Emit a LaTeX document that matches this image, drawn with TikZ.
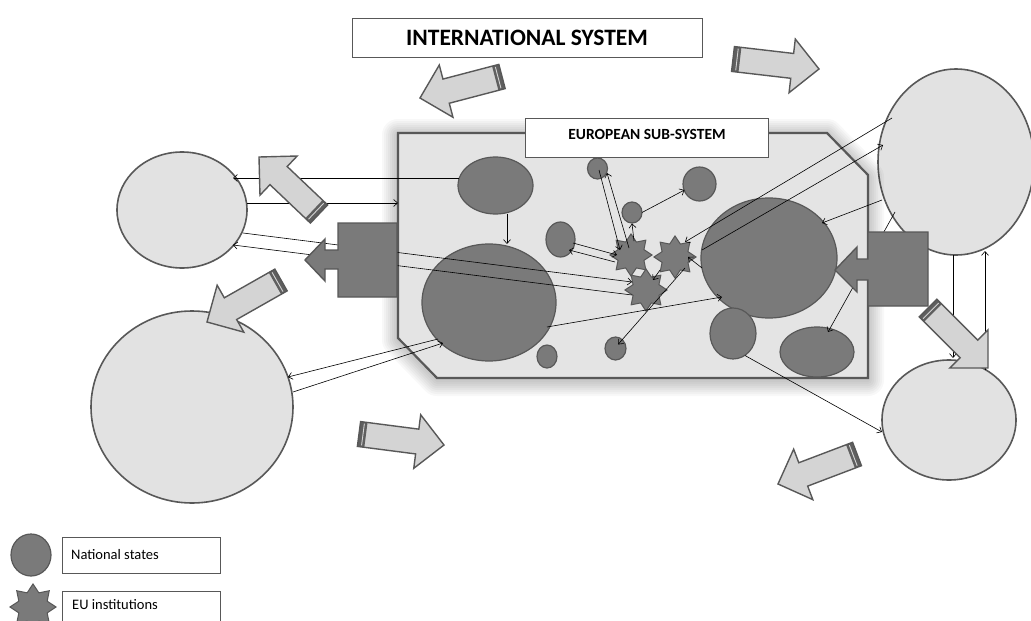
\documentclass[tikz,border=0pt]{standalone}
\usepackage{fontspec}
\setmainfont{Carlito}
\usetikzlibrary{calc,shapes.geometric,arrows.meta}
\definecolor{lightc}{RGB}{226,226,226}
\definecolor{boxc}{RGB}{228,228,228}
\definecolor{darkc}{RGB}{122,122,122}
\definecolor{edgec}{RGB}{88,88,88}
\definecolor{arrc}{RGB}{212,212,212}
\definecolor{stripec}{RGB}{95,95,95}
\tikzset{
  bigc/.style={ellipse, draw=edgec, fill=lightc, line width=1.6pt, inner sep=0pt, outer sep=0pt},
  state/.style={ellipse, draw=edgec, fill=darkc, line width=1.2pt, inner sep=0pt, outer sep=0pt},
  inst/.style={star, star points=8, star point ratio=1.5, draw=edgec, fill=darkc, line width=1pt, inner sep=0pt, minimum size=42pt},
  conn/.style={-{Straight Barb[length=4pt,width=7pt]}, line width=0.6pt, black},
  labelbox/.style={draw=edgec, fill=white, line width=0.8pt},
  subsys/.style={draw=edgec, fill=boxc, line width=2.2pt},
  glow/.style={draw=black, opacity=0.028, line join=round},
  callout/.style={draw=edgec, fill=darkc, line width=1.4pt, line join=miter},
  barrfill/.style={fill=arrc},
  barrline/.style={draw=edgec, line width=1.4pt, line join=miter},
}
\newcommand{\blockarr}[2]{%
  \coordinate (ba) at (#1);
  \coordinate (bb) at (#2);
  \coordinate (bh) at ($(bb)!27pt!(ba)$);
  \coordinate (bs) at ($(ba)!7pt!(bb)$);
  \coordinate (bl) at ($(ba)!4pt!(bb)$);
  \fill[barrfill] ($(ba)!12.5pt!90:(bb)$) -- ($(bh)!12.5pt!90:(bb)$) -- ($(bh)!27pt!90:(bb)$) -- (bb) -- ($(bh)!27pt!-90:(bb)$) -- ($(bh)!12.5pt!-90:(bb)$) -- ($(ba)!12.5pt!-90:(bb)$) -- cycle;
  \fill[stripec] ($(ba)!12.5pt!90:(bb)$) -- ($(bs)!12.5pt!90:(bb)$) -- ($(bs)!12.5pt!-90:(bb)$) -- ($(ba)!12.5pt!-90:(bb)$) -- cycle;
  \draw[arrc, line width=0.9pt] ($(bl)!11pt!90:(bb)$) -- ($(bl)!11pt!-90:(bb)$);
  \draw[barrline] ($(ba)!12.5pt!90:(bb)$) -- ($(bh)!12.5pt!90:(bb)$) -- ($(bh)!27pt!90:(bb)$) -- (bb) -- ($(bh)!27pt!-90:(bb)$) -- ($(bh)!12.5pt!-90:(bb)$) -- ($(ba)!12.5pt!-90:(bb)$) -- cycle;
}
\begin{document}
\begin{tikzpicture}[x=1pt,y=-1pt]
\useasboundingbox (0,0) rectangle (1031,621);
\fill[white] (0,0) rectangle (1031,621);

% outer actors
\node[bigc, minimum width=130pt, minimum height=116pt] (L1) at (182,210) {};
\node[bigc, minimum width=202pt, minimum height=192pt] (L2) at (192,407) {};
\node[bigc, minimum width=156pt, minimum height=186pt] (R1) at (956,162) {};
\node[bigc, minimum width=134pt, minimum height=120pt] (R2) at (949,420) {};

% title
\node[labelbox, minimum width=350pt, minimum height=39pt] (intl) at (527,38) {};
\node (intlt) at (527,38) {\fontsize{23.5}{27}\selectfont\bfseries INTERNATIONAL SYSTEM};

% European sub-system box with soft glow
\foreach \w in {4,8,12,16,20,24,28,32} {
  \draw[glow, line width=\w pt] (398,135) -- (827,135) -- (868,177) -- (868,380) -- (437,380) -- (398,340) -- cycle;
}
\draw[subsys] (398,133) -- (827,133) -- (868,175) -- (868,378) -- (437,378) -- (398,338) -- cycle;
\coordinate (boxL) at (398,203);
\node[labelbox, minimum width=243pt, minimum height=39pt] (eu) at (646.5,137.5) {};
\node (eut) at (647,134) {\fontsize{15.5}{18}\selectfont\bfseries EUROPEAN SUB-SYSTEM};

% national states
\node[state, minimum width=75pt, minimum height=57pt] (A) at (495.5,185.5) {};
\node[state, minimum width=134pt, minimum height=117pt] (B) at (489,302.5) {};
\node[state, minimum width=20pt, minimum height=21pt] (C) at (597.5,168.5) {};
\node[state, minimum width=33pt, minimum height=34pt] (D) at (699.5,184) {};
\node[state, minimum width=20pt, minimum height=21pt] (E) at (632,212.5) {};
\node[state, minimum width=29pt, minimum height=35pt] (F) at (560.5,239.5) {};
\node[state, minimum width=136pt, minimum height=120pt] (G) at (769,258) {};
\node[state, minimum width=46pt, minimum height=51pt] (H) at (733,333.5) {};
\node[state, minimum width=74pt, minimum height=50pt] (I) at (817,352) {};
\node[state, minimum width=20pt, minimum height=23pt] (J) at (547,356.5) {};
\node[state, minimum width=21pt, minimum height=23pt] (K) at (615.5,348.5) {};

% EU institutions
\node[inst] (S1) at (631,255) {};
\node[inst] (S2) at (675,257) {};
\node[inst] (S3) at (646,290) {};

% connectors
\draw[conn] ($(A)+(-37,-7.5)$) -- ($(L1)+(51,-32)$);
\draw[conn] ($(L1)+(65,-7)$) -- (boxL);
\draw[conn] ($(A)+(11.5,28)$) -- ($(B)+(18,-58.5)$);
\draw[conn] ($(L1)+(61,23)$) -- ($(S3)+(-14,-8)$);
\draw[conn] ($(S3)+(-14,5)$) -- ($(L1)+(51,35)$);
\draw[conn] ($(B)+(-51,36.5)$) -- ($(L2)+(96,-30)$);
\draw[conn] ($(L2)+(101,-15)$) -- ($(B)+(-46,40.5)$);
\draw[conn] ($(B)+(58,24.5)$) -- ($(G)+(-47,39)$);
\draw[conn] ($(C)+(1.5,1.5)$) -- ($(S1)+(-11,-5)$);
\draw[conn] ($(S1)+(-2,-7)$) -- ($(C)+(9.5,4.5)$);
\draw[conn] ($(S1)+(3,-14)$) -- ($(E)+(0,11)$);
\draw[conn] ($(E)+(10,0)$) -- ($(D)+(-15,6)$);
\draw[conn] ($(F)+(12.5,3.5)$) -- ($(S1)+(-14,0)$);
\draw[conn] ($(S1)+(-16,7)$) -- ($(F)+(8.5,10.5)$);
\draw[conn] ($(S2)+(-15,13)$) -- ($(S3)+(7,-10)$);
\draw[conn] ($(R1)+(-64,-44)$) -- ($(S2)+(10,-15)$);
\draw[conn] ($(G)+(-67,-8)$) -- ($(R1)+(-73,-17)$);
\draw[conn] ($(R1)+(-74,38)$) -- ($(G)+(53,-35)$);
\draw[conn] ($(S2)+(10,11)$) -- ($(K)+(2.5,-4)$);
\draw[conn] ($(G)+(-67,10)$) -- ($(S2)+(13,0)$);
\draw[conn] ($(R1)+(-3,93)$) -- ($(R2)+(4,-62)$);
\draw[conn] ($(R2)+(36,-50)$) -- ($(R1)+(29,89)$);
\draw[conn] ($(H)+(12,22)$) -- ($(R2)+(-67,12)$);
\draw[conn] ($(R1)+(-61,50)$) -- ($(I)+(11,-20)$);

% dark callouts
\draw[callout] (397,223) -- (338,223) -- (338,250) -- (325,250) -- (325,239) -- (305,260) -- (325,281) -- (325,269) -- (338,269) -- (338,297) -- (397,297) -- cycle;
\draw[callout] (868,232) -- (928,232) -- (928,306) -- (868,306) -- (868,280) -- (857,280) -- (857,292) -- (835,270) -- (857,247) -- (857,259) -- (868,259) -- cycle;

% block arrows
\blockarr{502,76.5}{420,98}
\blockarr{733,59}{819,69}
\blockarr{319,214}{259,157}
\blockarr{281,280}{207,322}
\blockarr{359,434}{444,445}
\blockarr{857,454}{778,484}
\blockarr{928,308}{988,368}

% legend
\node[state, minimum width=40pt, minimum height=42pt] (legS) at (31,555) {};
\node[labelbox, minimum width=158pt, minimum height=36pt] (legSb) at (141,555) {};
\node[anchor=west, inner sep=0pt] (legSt) at (71,555) {\fontsize{14.5}{17}\selectfont National states};
\node[inst, minimum size=46pt] (legI) at (33,607) {};
\node[labelbox, minimum width=158pt, minimum height=40pt] (legIb) at (141,611) {};
\node[anchor=west, inner sep=0pt] (legIt) at (72,605) {\fontsize{14.5}{17}\selectfont EU institutions};
\end{tikzpicture}
\end{document}
